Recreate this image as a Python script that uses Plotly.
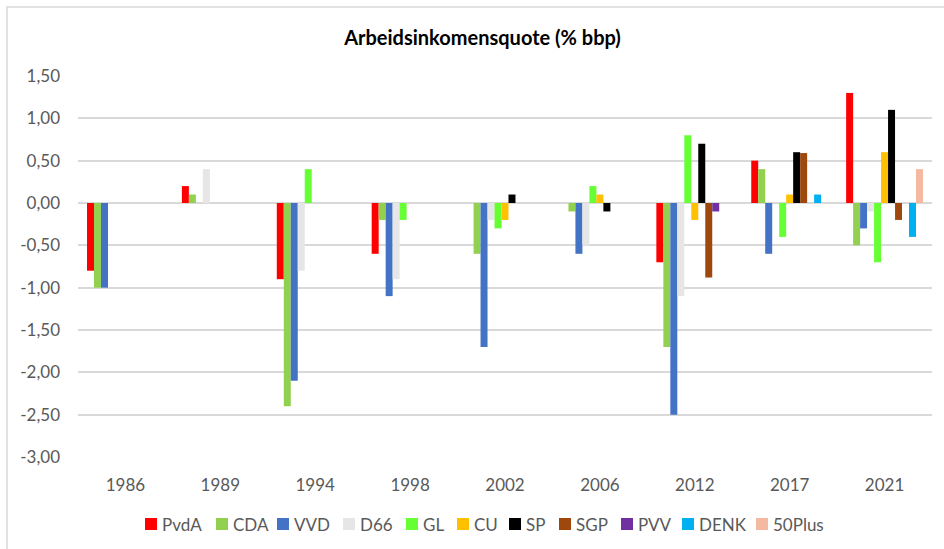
import plotly.graph_objects as go

years = ["1986", "1989", "1994", "1998", "2002", "2006", "2012", "2017", "2021"]
N = None
PvdA   = [-0.8, 0.2, -0.9, -0.6, N, N, -0.7, 0.5, 1.3]
CDA    = [-1.0, 0.1, -2.4, -0.2, -0.6, -0.1, -1.7, 0.4, -0.5]
VVD    = [-1.0, N, -2.1, -1.1, -1.7, -0.6, -2.5, -0.6, -0.3]
D66    = [N, 0.4, -0.8, -0.9, -0.2, -0.5, -1.1, N, -0.1]
GL     = [N, N, 0.4, -0.2, -0.3, 0.2, 0.8, -0.4, -0.7]
CU     = [N, N, N, N, -0.2, 0.1, -0.2, 0.1, 0.6]
SP     = [N, N, N, N, 0.1, -0.1, 0.7, 0.6, 1.1]
SGP    = [N, N, N, N, N, N, -0.88, 0.59, -0.2]
PVV    = [N, N, N, N, N, N, -0.1, N, N]
DENK   = [N, N, N, N, N, N, N, 0.1, -0.4]
Plus50 = [N, N, N, N, N, N, N, N, 0.4]

tick_vals = [1.5, 1.0, 0.5, 0.0, -0.5, -1.0, -1.5, -2.0, -2.5, -3.0]
tick_labels = ["1,50", "1,00", "0,50", "0,00", "-0,50", "-1,00", "-1,50", "-2,00", "-2,50", "-3,00"]

series = [
    ("PvdA", PvdA, "#FF0000"),
    ("CDA", CDA, "#92D050"),
    ("VVD", VVD, "#4472C4"),
    ("D66", D66, "#E7E6E6"),
    ("GL", GL, "#66FF33"),
    ("CU", CU, "#FFC000"),
    ("SP", SP, "#000000"),
    ("SGP", SGP, "#9E480E"),
    ("PVV", PVV, "#7030A0"),
    ("DENK", DENK, "#00B0F0"),
    ("50Plus", Plus50, "#F4B9A0"),
]

fig = go.Figure()
for name, vals, col in series:
    fig.add_trace(go.Bar(x=years, y=vals, name=name, marker_color=col,
                         marker_line_width=0, showlegend=False))

W, H = 944, 549
L, R, T, B = 78, 12, 76, 92
pw = W - L - R
ph = H - T - B

def px_x(x):
    return (x - L) / pw

def px_y(y):
    return (H - B - y) / ph

font_family = "Lato, 'Open Sans', sans-serif"
txt_col = "#595959"

# manual legend (layout positions in pixels)
legend_x = [145, 216, 277, 343, 406, 457, 509, 559, 621, 682, 756]
legend_y = 524
sq = 12
shapes = [dict(type="rect", xref="paper", yref="paper",
               x0=px_x(7), x1=px_x(960), y0=px_y(570), y1=px_y(7),
               line=dict(color="#D9D9D9", width=1.5), layer="below")]
annotations = []
for (name, vals, col), lx in zip(series, legend_x):
    shapes.append(dict(type="rect", xref="paper", yref="paper",
                       x0=px_x(lx), x1=px_x(lx + sq),
                       y0=px_y(legend_y + sq / 2), y1=px_y(legend_y - sq / 2),
                       fillcolor=col, line=dict(width=0)))
    annotations.append(dict(text=name, xref="paper", yref="paper",
                            x=px_x(lx + sq + 3), y=px_y(legend_y),
                            xanchor="left", yanchor="middle", showarrow=False,
                            font=dict(size=17, color=txt_col, family=font_family)))

fig.update_layout(
    width=W, height=H,
    margin=dict(l=L, r=R, t=T, b=B, autoexpand=False),
    paper_bgcolor="white", plot_bgcolor="white",
    barmode="group", bargap=0.19, bargroupgap=0,
    font=dict(family=font_family, color=txt_col, size=17),
    title=dict(text="<b>Arbeidsinkomensquote (% bbp)</b>",
               xref="container", x=482.5 / W, xanchor="center",
               yref="container", y=1 - 38 / H, yanchor="middle",
               font=dict(size=20, color="#000000", family=font_family)),
    xaxis=dict(type="category", showgrid=False, showline=False, ticks="",
               ticklabelstandoff=16,
               tickfont=dict(size=17, color=txt_col)),
    yaxis=dict(range=[-3.0, 1.5], tickvals=tick_vals, ticktext=tick_labels,
               showgrid=True, gridcolor="#D9D9D9", gridwidth=1.5,
               zeroline=True, zerolinecolor="#D9D9D9", zerolinewidth=1.5,
               showline=False, ticks="", ticklabelstandoff=17,
               tickfont=dict(size=17, color=txt_col)),
    showlegend=False,
    shapes=shapes,
    annotations=annotations,
)

fig.write_html("out.html", config={"displayModeBar": False},
               post_script="document.body.style.margin='0';")
